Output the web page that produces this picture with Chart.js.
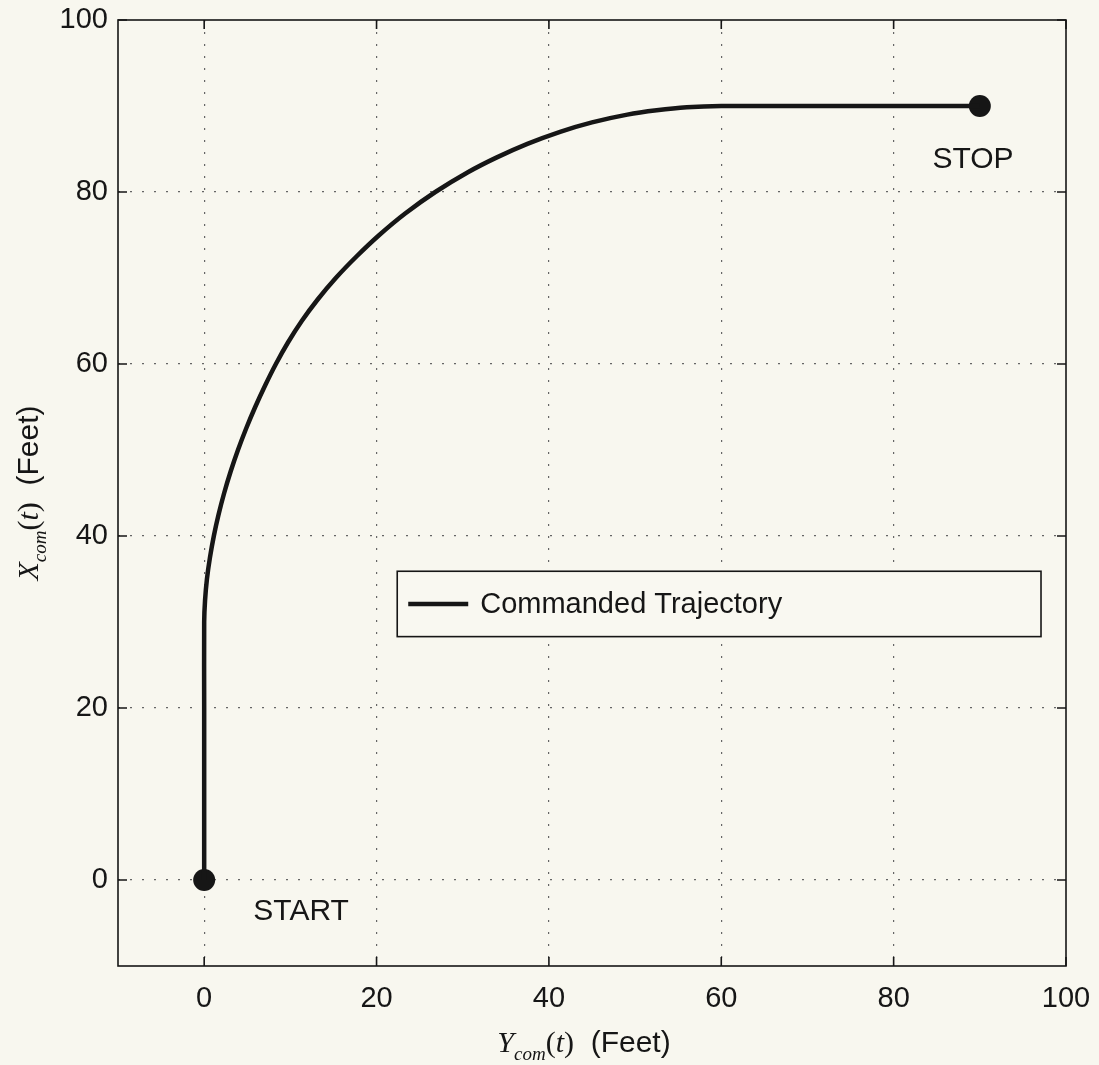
<!DOCTYPE html>
<html>
<head>
<meta charset="utf-8">
<script src="https://cdn.jsdelivr.net/npm/chart.js@4.4.1/dist/chart.umd.min.js"></script>
<style>
  html, body { margin: 0; padding: 0; background: #f8f7ef; }
  #wrap { width: 1099px; height: 1065px; }
</style>
</head>
<body>
<div id="wrap"><canvas id="traj" width="1099" height="1065"></canvas></div>
<script>
// commanded path (Y_com horizontal, X_com vertical)
const yCom = [0, 0, 0, 0, 0.1, 0.32, 0.67, 1.12, 1.67, 2.32, 3.07, 3.92, 4.87, 5.92, 7.07, 8.32, 9.72, 11.32, 13.17, 15.27, 17.67, 20.32, 23.32, 26.82, 30.6, 33.9, 37.5, 41.3, 45, 49.1, 52.5, 56, 60, 70, 80, 90];
const xCom = [0, 10, 20, 30, 32.5, 35, 37.5, 40, 42.5, 45, 47.5, 50, 52.5, 55, 57.5, 60, 62.5, 65, 67.5, 70, 72.5, 75, 77.5, 80, 82.3, 84, 85.6, 87, 88.1, 89, 89.5, 89.85, 90, 90, 90, 90];

// start / stop markers
const markY = [0, 90];
const markX = [0, 90];
const markNames = ['START', 'STOP'];

const tickVals = [0, 20, 40, 60, 80, 100];
const legendText = 'Commanded Trajectory';

const ink = '#161616';
const sans = '"Liberation Sans", Arial, sans-serif';
const serif = '"Liberation Serif", "Times New Roman", serif';

const pathPts = yCom.map((v, i) => ({ x: v, y: xCom[i] }));
const markPts = markY.map((v, i) => ({ x: v, y: markX[i] }));

function setTicks(scale) {
    scale.ticks = tickVals.map(v => ({ value: v }));
}

function noOverhang(scale) {
    scale.paddingTop = 0;
    scale.paddingBottom = 0;
    scale.paddingLeft = 0;
    scale.paddingRight = 0;
}

function gridColor(ctx) {
    if (ctx.tick && ctx.tick.value >= 100) return 'rgba(0,0,0,0)';
    return '#666';
}

// draws a "X_com(t)  (Feet)" style label centred on x=0 at the current baseline
function mathLabel(c, letter) {
    const parts = [
        { t: letter, f: 'italic 30px ' + serif, dy: 0 },
        { t: 'com', f: 'italic 19px ' + serif, dy: 8 },
        { t: '(', f: '30px ' + serif, dy: 0 },
        { t: 't', f: 'italic 30px ' + serif, dy: 0 },
        { t: ')', f: '30px ' + serif, dy: 0 },
        { t: '  (Feet)', f: '30px ' + sans, dy: 0 }
    ];
    let w = 0;
    parts.forEach(p => { c.font = p.f; p.w = c.measureText(p.t).width; w += p.w; });
    let x = -w / 2;
    parts.forEach(p => {
        c.font = p.f;
        c.fillText(p.t, x, p.dy);
        x += p.w;
    });
}

const decor = {
    id: 'decor',
    beforeDraw(chart) {
        const c = chart.ctx;
        c.save();
        c.fillStyle = '#f8f7ef';
        c.fillRect(0, 0, chart.width, chart.height);
        c.restore();
    },
    afterDraw(chart) {
        const c = chart.ctx;
        const a = chart.chartArea;
        const sx = chart.scales.x, sy = chart.scales.y;
        c.save();

        // frame
        c.strokeStyle = ink;
        c.lineWidth = 1.6;
        c.strokeRect(a.left, a.top, a.right - a.left, a.bottom - a.top);

        // inward tick marks on all four sides
        const tl = 9;
        c.beginPath();
        tickVals.forEach(v => {
            const px = sx.getPixelForValue(v);
            c.moveTo(px, a.bottom); c.lineTo(px, a.bottom - tl);
            c.moveTo(px, a.top); c.lineTo(px, a.top + tl);
            const py = sy.getPixelForValue(v);
            c.moveTo(a.left, py); c.lineTo(a.left + tl, py);
            c.moveTo(a.right, py); c.lineTo(a.right - tl, py);
        });
        c.stroke();

        // START / STOP labels
        c.fillStyle = ink;
        c.font = '30px ' + sans;
        c.textBaseline = 'alphabetic';
        c.fillText(markNames[0], sx.getPixelForValue(5.7), sy.getPixelForValue(-4.7));
        c.fillText(markNames[1], sx.getPixelForValue(84.5), sy.getPixelForValue(82.8));

        // legend box
        const lx0 = sx.getPixelForValue(22.4), lx1 = sx.getPixelForValue(97.1);
        const ly0 = sy.getPixelForValue(35.9), ly1 = sy.getPixelForValue(28.3);
        c.fillStyle = '#f9f8f1';
        c.fillRect(lx0, ly0, lx1 - lx0, ly1 - ly0);
        c.strokeStyle = ink;
        c.lineWidth = 1.6;
        c.strokeRect(lx0, ly0, lx1 - lx0, ly1 - ly0);
        const lyMid = (ly0 + ly1) / 2;
        c.lineWidth = 4.5;
        c.beginPath();
        c.moveTo(lx0 + 11, lyMid);
        c.lineTo(lx0 + 71, lyMid);
        c.stroke();
        c.fillStyle = ink;
        c.font = '29px ' + sans;
        c.textBaseline = 'middle';
        c.fillText(legendText, lx0 + 83, lyMid + 1);

        // axis titles
        c.textBaseline = 'alphabetic';
        c.save();
        c.translate((a.left + a.right) / 2 - 8, 1052);
        mathLabel(c, 'Y');
        c.restore();

        c.save();
        c.translate(38, (a.top + a.bottom) / 2);
        c.rotate(-Math.PI / 2);
        mathLabel(c, 'X');
        c.restore();

        c.restore();
    }
};

const config = {
    type: 'scatter',
    data: {
        datasets: [
            {
                label: legendText,
                data: pathPts,
                showLine: true,
                borderColor: ink,
                borderWidth: 4.5,
                pointRadius: 0,
                tension: 0.3,
                fill: false
            },
            {
                label: 'ends',
                data: markPts,
                pointRadius: 11,
                pointBackgroundColor: ink,
                pointBorderWidth: 0,
                showLine: false
            },
            {
                label: 'glint',
                data: markPts,
                pointRadius: 2.5,
                pointBackgroundColor: '#f4f4f0',
                pointBorderWidth: 0,
                showLine: false
            }
        ]
    },
    options: {
        responsive: false,
        animation: false,
        events: [],
        layout: { padding: { left: 0, top: 20, right: 33, bottom: 0 } },
        plugins: {
            legend: { display: false },
            tooltip: { enabled: false },
            title: { display: false }
        },
        scales: {
            x: {
                type: 'linear',
                min: -10,
                max: 100,
                afterBuildTicks: setTicks,
                afterFit(scale) { scale.height = 99; noOverhang(scale); },
                grid: { color: gridColor, lineWidth: 1.2, drawTicks: false },
                border: { display: false, dash: [2, 10] },
                ticks: {
                    color: ink,
                    padding: 16,
                    font: { family: sans, size: 29 },
                    maxRotation: 0
                }
            },
            y: {
                type: 'linear',
                min: -10,
                max: 100,
                afterBuildTicks: setTicks,
                afterFit(scale) { scale.width = 118; noOverhang(scale); },
                grid: { color: gridColor, lineWidth: 1.2, drawTicks: false },
                border: { display: false, dash: [2, 10] },
                ticks: {
                    color: ink,
                    padding: 10,
                    font: { family: sans, size: 29 }
                }
            }
        }
    },
    plugins: [decor]
};

const trajChart = new Chart(document.getElementById('traj'), config);
</script>
</body>
</html>
